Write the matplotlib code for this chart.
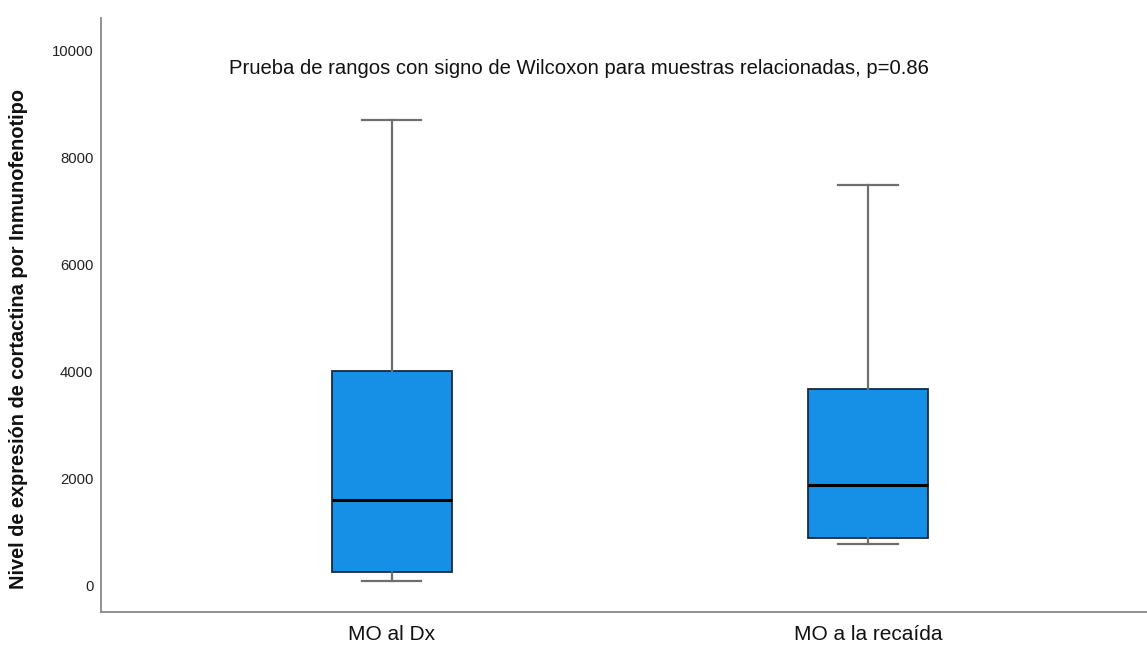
import matplotlib
matplotlib.use("Agg")
import matplotlib.pyplot as plt
from matplotlib import font_manager

# Box summary values for cortactin expression (immunophenotype)
groups = ["MO al Dx", "MO a la recaída"]
whisker_low = [80, 775]
q1 = [250, 885]
median = [1600, 1870]
q3 = [4000, 3670]
whisker_high = [8700, 7480]

y_ticks = [0, 2000, 4000, 6000, 8000, 10000]
note = "Prueba de rangos con signo de Wilcoxon para muestras relacionadas, p=0.86"
y_label = "Nivel de expresión de cortactina por Inmunofenotipo"

available = {f.name for f in font_manager.fontManager.ttflist}
family = "Liberation Sans" if "Liberation Sans" in available else "DejaVu Sans"
plt.rcParams["font.family"] = [family, "DejaVu Sans"]

fig = plt.figure(figsize=(11.47, 6.46), dpi=100)
ax = fig.add_axes([0.0881, 0.0526, 0.9119, 0.9195])

stats = []
for i, g in enumerate(groups):
    stats.append(dict(label=g, whislo=whisker_low[i], q1=q1[i], med=median[i],
                      q3=q3[i], whishi=whisker_high[i], fliers=[]))

ax.bxp(stats, positions=range(len(groups)), widths=0.252, patch_artist=True,
       showfliers=False,
       boxprops=dict(facecolor="#1590e6", edgecolor="#1c2a3a", linewidth=1.3),
       medianprops=dict(color="#000000", linewidth=2.2),
       whiskerprops=dict(color="#6e6e6e", linewidth=1.6),
       capprops=dict(color="#6e6e6e", linewidth=1.6),
       capwidths=0.124)

ax.set_xlim(-0.611, 1.586)
ax.set_ylim(-505, 10612)
ax.set_yticks(y_ticks)
ax.set_yticklabels([str(v) for v in y_ticks], fontsize=10.7, color="#222222")
ax.tick_params(axis="y", length=0, pad=5.5)
ax.tick_params(axis="x", length=0, pad=9, labelsize=15, labelcolor="#111111")

for side in ("top", "right"):
    ax.spines[side].set_visible(False)
for side in ("left", "bottom"):
    ax.spines[side].set_color("#888888")
    ax.spines[side].set_linewidth(1.3)

ax.set_ylabel(y_label, fontsize=14.4, fontweight="bold", color="#111111")
ax.yaxis.set_label_coords(-0.0698, 0.4596)

ax.text(0.4571, 9660, note, transform=ax.get_yaxis_transform(),
        ha="center", va="center", fontsize=14.6, color="#111111")

fig.savefig("out.png", dpi=100, facecolor="white")
